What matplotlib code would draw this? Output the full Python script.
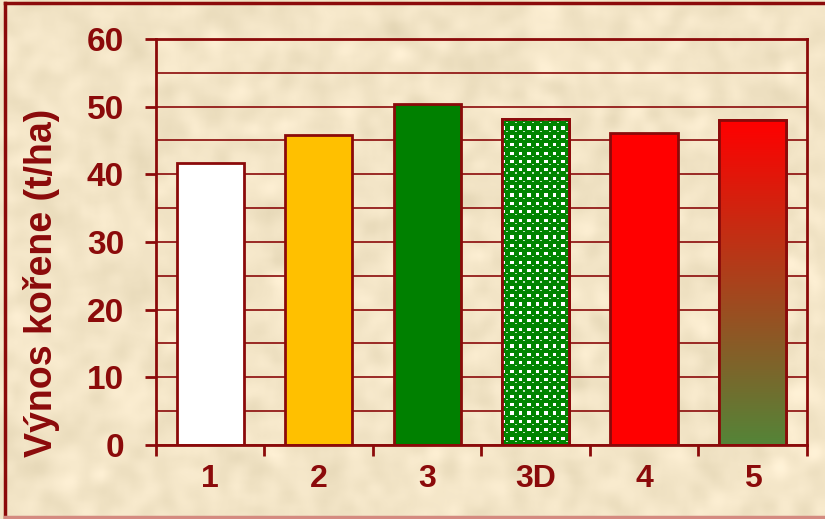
import numpy as np
import matplotlib
matplotlib.use("Agg")
import matplotlib.pyplot as plt
from matplotlib.lines import Line2D
from matplotlib.ticker import MultipleLocator, FixedLocator

plt.rcParams['font.family'] = ['Liberation Sans', 'DejaVu Sans']
plt.rcParams['font.weight'] = 'bold'

categories = ['1', '2', '3', '3D', '4', '5']
yields = [41.7, 45.8, 50.4, 48.2, 46.1, 48.0]
ylabel = 'Výnos kořene (t/ha)'

dark_red = '#8B0A0A'
fills = ['#FFFFFF', '#FFC000', '#008000', None, '#FF0000', None]

fig = plt.figure(figsize=(8.25, 5.19), dpi=100)

# parchment background
bg = fig.add_axes([0, 0, 1, 1], zorder=-10)
rng = np.random.default_rng(7)
h, w = 260, 412
noise = rng.normal(size=(h, w))
k = np.ones(7) / 7
for _ in range(2):
    noise = np.apply_along_axis(lambda r: np.convolve(r, k, mode='same'), 1, noise)
    noise = np.apply_along_axis(lambda c: np.convolve(c, k, mode='same'), 0, noise)
noise = noise / noise.std()
base = np.array([243, 229, 199]) / 255.0
tex = base[None, None, :] + 0.014 * noise[:, :, None] * np.array([1.0, 1.0, 1.2])
bg.imshow(np.clip(tex, 0, 1), aspect='auto', interpolation='bicubic',
          extent=[0, 1, 0, 1])
bg.set_axis_off()

# frame around the slide
fig.add_artist(Line2D([0.006, 0.006], [0.004, 0.995], color=dark_red, lw=2.5))
fig.add_artist(Line2D([0.006, 1.0], [0.995, 0.995], color=dark_red, lw=2.5))
fig.add_artist(Line2D([0.006, 1.0], [0.004, 0.004], color='#D48A80', lw=2.5))

ax = fig.add_axes([0.189, 0.1426, 0.789, 0.7824])
ax.set_facecolor('none')
x = np.arange(len(categories))
width = 0.62

ax.set_xlim(-0.5, len(categories) - 0.5)
ax.set_ylim(0, 60)

bars = ax.bar(x, yields, width=width, color=[c if c else 'none' for c in fills],
              edgecolor=dark_red, linewidth=2, zorder=3)

# green dots with small white squares between them (3D)
i3 = categories.index('3D')
b = bars[i3]
b.set_facecolor('white')
cell = np.zeros((8, 8, 3))
cell[:] = [0.0, 0.52, 0.0]
cell[0:3, 0:3] = [1.0, 1.0, 1.0]
cell[4, 4:6] = [0.75, 0.9, 0.75]
pat = np.tile(cell, (39, 8, 1))
x0 = x[i3] - width / 2
img = ax.imshow(pat, extent=[x0, x0 + width, 0, yields[i3]], aspect='auto',
                interpolation='nearest', zorder=3.1, origin='upper')
img.set_clip_path(b)
ax.bar(x[i3], yields[i3], width=width, color='none', edgecolor=dark_red,
       linewidth=2, zorder=3.2)

# red-to-green gradient for bar 5
i5 = categories.index('5')
b5 = bars[i5]
top = np.array([1.0, 0.0, 0.0])
bottom = np.array([0.33, 0.52, 0.22])
t = np.linspace(0, 1, 256)[:, None]
grad = (top * (1 - t) + bottom * t)[:, None, :]
x0 = x[i5] - width / 2
img5 = ax.imshow(grad, extent=[x0, x0 + width, 0, yields[i5]], aspect='auto',
                 zorder=3.1, origin='upper')
img5.set_clip_path(b5)
ax.bar(x[i5], yields[i5], width=width, color='none', edgecolor=dark_red,
       linewidth=2, zorder=3.2)

# axes styling
ax.yaxis.set_major_locator(MultipleLocator(10))
ax.yaxis.set_minor_locator(MultipleLocator(5))
ax.grid(axis='y', which='both', color=dark_red, linewidth=1.2, zorder=1)
ax.tick_params(axis='y', which='minor', length=0)
ax.tick_params(axis='y', which='major', length=8, width=2, color=dark_red,
               labelcolor=dark_red, labelsize=24, pad=15)

ax.xaxis.set_major_locator(FixedLocator(np.arange(-0.5, len(categories), 1.0)))
ax.xaxis.set_major_formatter(plt.NullFormatter())
ax.set_xticks(x, categories, minor=True)
ax.tick_params(axis='x', which='major', length=8, width=2, color=dark_red)
ax.tick_params(axis='x', which='minor', length=0, labelcolor=dark_red,
               labelsize=23, pad=14)

for s in ax.spines.values():
    s.set_color(dark_red)
    s.set_linewidth(2)
    s.set_zorder(4)

ax.set_ylabel(ylabel, color=dark_red, fontsize=27, fontweight='bold')
ax.yaxis.set_label_coords(-0.147, 0.40)

fig.savefig('out.png', dpi=100)
